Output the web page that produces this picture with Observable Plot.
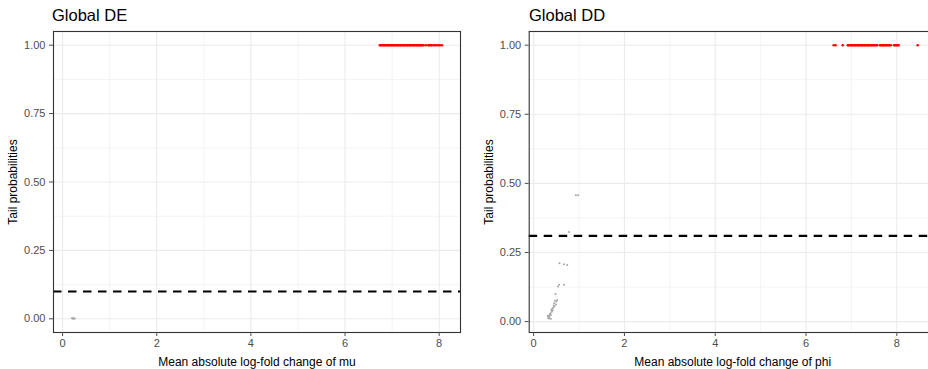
<!DOCTYPE html>
<html>
<head>
<meta charset="utf-8">
<script src="https://cdn.jsdelivr.net/npm/d3@7"></script>
<script src="https://cdn.jsdelivr.net/npm/@observablehq/plot@0.6"></script>
<style>
  html, body { margin: 0; padding: 0; background: white; }
  #wrap { position: relative; width: 928px; height: 369px; overflow: hidden; background: white;
          font-family: "Liberation Sans", Arial, sans-serif; }
  .title { position: absolute; top: 7px; font-size: 16.5px; line-height: 16.5px; color: black; white-space: nowrap; }
  .panel { position: absolute; top: 0; width: 470px; height: 369px; }
  .panel svg { display: block; max-width: none !important; width: 470px; height: 369px; }
</style>
</head>
<body>
<div id="wrap">
  <div class="panel" id="p1" style="left:0px"></div>
  <div class="panel" id="p2" style="left:470px"></div>
  <div class="title" style="left:52px">Global DE</div>
  <div class="title" style="left:529px">Global DD</div>
</div>
<script>
// ---- Data ----
// Global DE (mean absolute log-fold change of mu)
const deRedX = [6.74, 6.76, 6.78, 6.81, 6.83, 6.85, 6.88, 6.90, 6.92, 6.95, 6.97, 6.99, 7.02, 7.04,
                7.06, 7.09, 7.11, 7.13, 7.16, 7.18, 7.20, 7.23, 7.25, 7.27, 7.30, 7.32, 7.34, 7.37,
                7.39, 7.41, 7.44, 7.46, 7.48, 7.51, 7.53, 7.55, 7.58, 7.60, 7.62, 7.64, 7.67, 7.72,
                7.77, 7.79, 7.82, 7.84, 7.88, 7.91, 7.95, 7.99, 8.02, 8.06];
const deGreyX = [0.20, 0.21, 0.23, 0.24, 0.26];
const deGreyY = [0.002, 0.001, 0.002, 0.000, 0.001];
const deCutoff = 0.10;

// Global DD (mean absolute log-fold change of phi)
const ddRedX = [6.61, 6.65, 6.81, 6.92, 6.94, 6.96, 6.99, 7.01, 7.03, 7.06, 7.08, 7.10, 7.13, 7.15,
                7.17, 7.20, 7.22, 7.24, 7.27, 7.29, 7.31, 7.34, 7.36, 7.38, 7.41, 7.43, 7.45, 7.48,
                7.50, 7.52, 7.55, 7.57, 7.63, 7.65, 7.68, 7.70, 7.72, 7.75, 7.77, 7.79, 7.82, 7.84,
                7.87, 7.94, 7.96, 7.99, 8.01, 8.04, 8.46];
const ddGreyX = [0.93, 0.98, 0.78, 0.57, 0.67, 0.74, 0.56, 0.67, 0.54, 0.48, 0.52, 0.50, 0.47, 0.49,
                 0.45, 0.46, 0.44, 0.43, 0.41, 0.42, 0.40, 0.39, 0.37, 0.38, 0.36, 0.35, 0.34, 0.33,
                 0.32, 0.35, 0.31, 0.38];
const ddGreyY = [0.457, 0.457, 0.324, 0.211, 0.207, 0.205, 0.133, 0.133, 0.127, 0.100, 0.078, 0.072,
                 0.075, 0.062, 0.066, 0.055, 0.058, 0.050, 0.046, 0.040, 0.036, 0.042, 0.030, 0.024,
                 0.027, 0.020, 0.016, 0.022, 0.012, 0.011, 0.020, 0.010];
const ddCutoff = 0.31;

// Axes
const xTicks = [0, 2, 4, 6, 8];
const xMinor = [1, 3, 5, 7];
const yTicks = [0, 0.25, 0.5, 0.75, 1];
const yMinor = [0.125, 0.375, 0.625, 0.875];
const yLabel = "Tail probabilities";
const deXLabel = "Mean absolute log-fold change of mu";
const ddXLabel = "Mean absolute log-fold change of phi";

// ggplot-like expansion of 5% on each side
function expand(lo, hi) { const p = (hi - lo) * 0.05; return [lo - p, hi + p]; }

function panel({redX, greyX, greyY, cutoff, xLabel, width, marginLeft, marginRight}) {
  const allX = redX.concat(greyX);
  const allY = greyY.concat(redX.map(() => 1));
  const red = redX.map(x => ({x, y: 1}));
  const grey = greyX.map((x, i) => ({x, y: greyY[i]}));
  return Plot.plot({
    width, height: 369,
    marginTop: 31, marginBottom: 37, marginLeft, marginRight,
    x: {domain: expand(d3.min(allX), d3.max(allX))},
    y: {domain: expand(d3.min(allY), d3.max(allY))},
    style: {fontFamily: '"Liberation Sans", Arial, sans-serif', background: "white", overflow: "visible"},
    marks: [
      Plot.ruleX(xMinor, {stroke: "#EBEBEB", strokeWidth: 0.55}),
      Plot.ruleY(yMinor, {stroke: "#EBEBEB", strokeWidth: 0.55}),
      Plot.ruleX(xTicks, {stroke: "#EBEBEB", strokeWidth: 1.1}),
      Plot.ruleY(yTicks, {stroke: "#EBEBEB", strokeWidth: 1.1}),
      Plot.dot(grey, {x: "x", y: "y", r: 1.0, fill: "#A6A6A6", stroke: null}),
      Plot.dot(red, {x: "x", y: "y", r: 1.3, fill: "#FF0000", stroke: null}),
      Plot.ruleY([cutoff], {stroke: "black", strokeWidth: 2.1, strokeDasharray: "8.5,6.5"}),
      Plot.frame({stroke: "#333333", strokeWidth: 1.1}),
      Plot.axisX(xTicks, {tickSize: 4, tickPadding: 3, fontSize: 11, color: "#4D4D4D", label: null}),
      Plot.axisX([], {label: xLabel, labelAnchor: "center", labelArrow: "none", labelOffset: 33,
                      fontSize: 12, color: "black", tickSize: 0}),
      Plot.axisY(yTicks, {tickSize: 4, tickPadding: 4, tickFormat: d3.format(".2f"), fontSize: 11,
                          color: "#4D4D4D", label: null}),
      Plot.axisY([], {label: yLabel, labelAnchor: "center", labelArrow: "none", labelOffset: 45,
                      fontSize: 12, color: "black", tickSize: 0})
    ]
  });
}

document.getElementById("p1").append(panel({
  redX: deRedX, greyX: deGreyX, greyY: deGreyY, cutoff: deCutoff, xLabel: deXLabel,
  width: 470, marginLeft: 53, marginRight: 10
}));
document.getElementById("p2").append(panel({
  redX: ddRedX, greyX: ddGreyX, greyY: ddGreyY, cutoff: ddCutoff, xLabel: ddXLabel,
  width: 470, marginLeft: 58.7, marginRight: 4.3
}));
</script>
</body>
</html>
